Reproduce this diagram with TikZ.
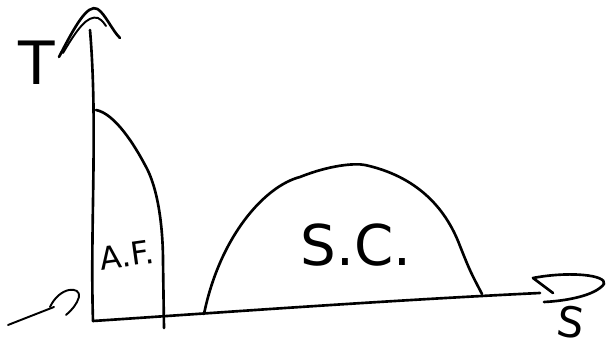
\documentclass[tikz,border=0pt]{standalone}
\usepackage{fontspec}
\setsansfont{DejaVu Sans}
\usetikzlibrary{positioning}

\begin{document}
\begin{tikzpicture}[
        stroke/.style={line width=1.5pt, line cap=round, line join=round},
        thinstroke/.style={line width=1.1pt, line cap=round, line join=round},
        hand/.style={inner sep=0pt}
    ]
    \useasboundingbox (0,0) rectangle (12.14,7.02);

    % axes
    \coordinate (origin) at (1.86,0.60);
    \coordinate (ttop) at (1.80,6.42);
    \coordinate (send) at (10.80,1.16);
    \draw[stroke] (origin) .. controls (1.80,2.5) and (1.96,4.5) .. (ttop);
    \draw[stroke] (origin) .. controls (4.0,0.74) and (7.5,1.0) .. (send);

    % arrow tips, drawn by hand
    \draw[stroke] (1.18,5.88) .. controls (1.5,6.5) and (1.75,6.95) .. (1.95,6.84)
        .. controls (2.1,6.75) and (2.25,6.4) .. (2.40,6.26);
    \draw[thinstroke] (1.26,5.96) .. controls (1.55,6.45) and (1.75,6.72) .. (1.96,6.66)
        .. controls (2.05,6.6) .. (2.12,6.5);
    \draw[stroke] (11.06,1.16) -- (10.66,1.46)
        .. controls (11.4,1.6) and (12.14,1.52) .. (12.08,1.34)
        .. controls (11.9,1.1) and (11.3,1.0) .. (10.88,0.98);

    % small hook near the origin
    \draw[thinstroke] (0.16,0.52) -- (1.08,0.88);
    \draw[thinstroke] (1.0,0.88) .. controls (1.2,1.3) and (1.62,1.3) .. (1.58,1.08)
        .. controls (1.54,0.94) and (1.44,0.82) .. (1.32,0.72);

    % A.F. region
    \coordinate (afTop) at (1.92,4.82);
    \coordinate (afFoot) at (3.28,0.46);
    \draw[stroke] (afTop) .. controls (2.3,4.75) and (2.7,4.1) .. (2.9,3.72)
        .. controls (3.2,3.2) and (3.26,2.3) .. (3.26,1.8) -- (afFoot);

    % S.C. dome
    \coordinate (scLeft) at (4.08,0.74);
    \coordinate (scRight) at (9.64,1.14);
    \draw[stroke] (scLeft) .. controls (4.4,2.3) and (5.3,3.3) .. (6.0,3.48)
        .. controls (6.6,3.72) and (7.1,3.76) .. (7.3,3.72)
        .. controls (8.3,3.5) and (8.9,2.9) .. (9.2,2.1)
        .. controls (9.4,1.6) .. (scRight);

    % labels
    \node[hand, font=\sffamily\fontsize{34}{34}\selectfont] (tLabel) at (0.74,5.76) {T};
    \node[hand, font=\sffamily\fontsize{24}{24}\selectfont, rotate=-8] (sLabel) at (11.42,0.58) {S};
    \node[hand, font=\sffamily\fontsize{18}{18}\selectfont, rotate=8] (afLabel) at (2.54,1.92) {A.F.};
    \node[hand, font=\sffamily\fontsize{32}{32}\selectfont] (scLabel) at (7.12,2.12) {S.C.};
\end{tikzpicture}
\end{document}
